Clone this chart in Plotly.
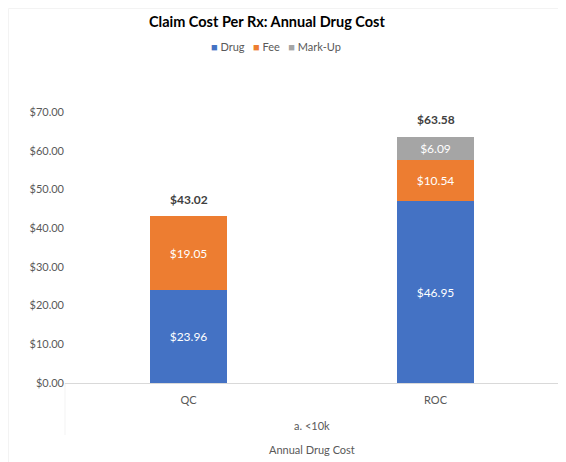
import plotly.graph_objects as go

group_label = "a. <10k"
plans = ["QC", "ROC"]
drug = [23.96, 46.95]
fee = [19.05, 10.54]
markup = [None, 6.09]
totals = [43.02, 63.58]

colors = {"Drug": "#4472C4", "Fee": "#ED7D31", "Mark-Up": "#A5A5A5"}
font_family = "Lato, Carlito, Calibri, sans-serif"
grey_line = "#D9D9D9"
grey_text = "#595959"

# the page body adds an 8px margin, so the figure is 8px smaller each way
fig = go.Figure()

for name, vals in [("Drug", drug), ("Fee", fee), ("Mark-Up", markup)]:
    fig.add_trace(go.Bar(
        x=plans,
        y=vals,
        name=name,
        marker=dict(color=colors[name], line=dict(width=0)),
        width=0.31,
        text=[f"${v:.2f}" if v is not None else "" for v in vals],
        textposition="inside",
        insidetextanchor="middle",
        textfont=dict(color="white", size=12, family=font_family),
        hoverinfo="name+y",
        showlegend=False,
    ))

annotations = []
# totals above each stack
for plan, t in zip(plans, totals):
    annotations.append(dict(
        x=plan, y=t, xref="x", yref="y", text=f"<b>${t:.2f}</b>",
        showarrow=False, yanchor="middle", yshift=17,
        font=dict(size=12, color="#404040", family=font_family),
    ))

# legend row (Excel style: small square right next to the label)
legend_text = "&nbsp;&nbsp;&nbsp;".join(
    f"<span style='color:{c}'>■</span> {n}" for n, c in colors.items()
)
annotations.append(dict(
    x=0.427, y=1.24, xref="paper", yref="paper", text=legend_text,
    showarrow=False, xanchor="center", yanchor="middle",
    font=dict(size=11, color=grey_text, family=font_family),
))

# group label and axis title under the category labels
annotations.append(dict(
    x=0.5, y=-0.155, xref="paper", yref="paper", text=group_label,
    showarrow=False, yanchor="middle",
    font=dict(size=11, color=grey_text, family=font_family),
))
annotations.append(dict(
    x=0.5, y=-0.247, xref="paper", yref="paper", text="Annual Drug Cost",
    showarrow=False, yanchor="middle",
    font=dict(size=11, color=grey_text, family=font_family),
))

shapes = [
    # chart border (right and bottom edges fall outside the picture)
    dict(type="rect", xref="paper", yref="paper",
         x0=-0.1144, x1=1.05, y0=-0.5, y1=1.382,
         line=dict(color=grey_line, width=1), fillcolor="rgba(0,0,0,0)"),
    # group dividers
    dict(type="line", xref="paper", yref="paper", x0=0, x1=0, y0=0, y1=-0.192,
         line=dict(color=grey_line, width=1)),
    dict(type="line", xref="paper", yref="paper", x0=1, x1=1, y0=0, y1=-0.192,
         line=dict(color=grey_line, width=1)),
]

fig.update_layout(
    width=558,
    height=454,
    barmode="stack",
    template="simple_white",
    paper_bgcolor="white",
    plot_bgcolor="white",
    font=dict(family=font_family, size=11, color=grey_text),
    title=dict(
        text="<b>Claim Cost Per Rx: Annual Drug Cost</b>",
        x=0.464, xanchor="center", y=0.969, yanchor="middle",
        font=dict(size=14.5, color="#000000", family=font_family),
    ),
    showlegend=False,
    margin=dict(l=57, r=7, t=104, b=79),
    annotations=annotations,
    shapes=shapes,
)

fig.update_xaxes(
    type="category",
    automargin=False,
    showline=True, linecolor=grey_line, linewidth=1,
    ticks="", ticklabelstandoff=7,
    tickfont=dict(size=11, color=grey_text),
    showgrid=False,
)

fig.update_yaxes(
    range=[0, 70],
    dtick=10,
    tickformat="$.2f",
    automargin=False,
    showline=False, ticks="",
    showgrid=False,
    tickfont=dict(size=11, color=grey_text),
    zeroline=False,
)

fig.write_html("out.html")
